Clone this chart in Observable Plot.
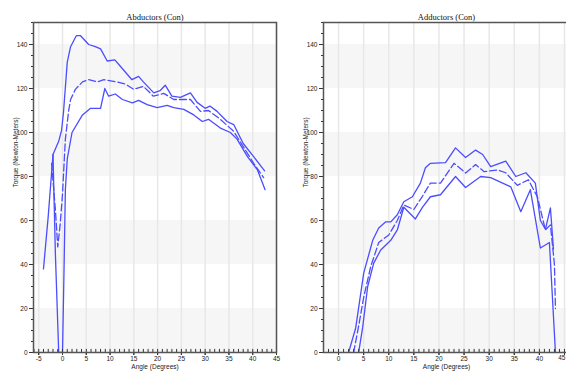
<!DOCTYPE html>
<html>
<head>
<meta charset="utf-8">
<script src="https://cdn.jsdelivr.net/npm/d3@7"></script>
<script src="https://cdn.jsdelivr.net/npm/@observablehq/plot@0.6"></script>
<style>
  html, body { margin: 0; padding: 0; background: #fff; overflow: hidden; }
  #wrap { display: flex; flex-wrap: nowrap; width: 566px; height: 376px; overflow: hidden; }
  #wrap > div { flex: none; }
</style>
</head>
<body>
<div id="wrap"><div id="left"></div><div id="right"></div></div>
<script>
// ---- data: [angle (degrees), torque (N·m)] ----
const abdUpper = [[-4,38],[-3,62],[-2,90],[-0.8,96],[-0.2,101],[0.2,109],[1,132],[1.7,139],[2.9,144],[3.8,144],[5.5,140],[6.9,139],[8,138],[9.4,132.5],[11,133],[12.2,130],[14.6,124],[16,125.5],[17,123],[19.2,118],[20.5,119],[21.6,121.5],[23,116.5],[24.8,116],[26.9,118],[28.3,113.7],[30,111],[31,112],[32.5,109.6],[34.6,105],[36,103.6],[38,95],[40.2,89],[42.5,82.6]];
const abdMean = [[-2.3,86],[-1.5,65],[-1,48],[-0.5,58],[0,72],[0.6,97],[1.3,110],[1.7,115],[2.7,119.6],[4.2,123],[5.5,124],[7.3,123],[8.7,124],[11.5,123],[13.2,122],[15,119.6],[17,121],[19.1,116.5],[21.3,117.8],[23.4,115],[25,115],[26.9,115],[29,109.6],[30.7,110],[33.2,106],[36,100.5],[38,93.6],[40.2,86],[42.3,79.5]];
const abdLower = [[-2,90],[-1.5,45],[-0.8,0],[0,0],[0.3,35],[0.6,74],[1,88],[2,100],[4.2,108],[5.9,111],[8,111],[8.9,120],[9.7,116.5],[11.1,117.5],[12.6,115],[14.7,113.5],[16,114.6],[17.8,112.7],[19.9,111.3],[22,112.3],[23.4,111.3],[25.5,110.5],[27.6,108],[29.4,105],[30.7,106],[33.2,102],[35.3,100],[36.7,97],[38.9,89],[41,83],[42.6,74]];

const addUpper = [[2,0],[3.4,11],[5,36],[6.8,51],[8,56.6],[9.4,59.4],[10.4,59.4],[11.7,62.6],[13,68.5],[14.7,70.8],[16.3,77],[17.3,84],[18.3,86],[21.3,86.3],[23.3,93],[25.3,88.6],[27.3,92],[28.7,90],[30.3,84.5],[33.3,87],[35.3,80],[37.3,81.7],[39.2,77],[40.2,60],[41.2,56],[42.2,65.7],[42.8,47]];
const addMean = [[3,0],[4,12],[5,25],[6.4,39],[8,50],[10,53.4],[11.7,60],[13,67],[15,65],[16.7,71],[18.3,77],[20.3,77],[23,86],[25.3,81.6],[27.3,85.4],[29,82.2],[31.7,83],[33.3,81.7],[35.6,76],[37.8,78.5],[39.6,70.8],[41.2,55.7],[42.2,58],[43,40],[43.2,20]];
const addLower = [[4,0],[4.8,11.4],[5.8,30],[7,40.6],[8.4,46.6],[10.4,51],[11.7,55.7],[13,66],[15.3,60.7],[16.7,66],[18.3,70.8],[20.3,71.7],[23.3,80],[25.3,75],[28.3,80],[30.3,79.5],[34.3,75.3],[36.3,64],[38.2,74],[40.2,47.5],[42,50],[43.2,0]];

const titles = ["Abductors (Con)", "Adductors (Con)"];
const xLabel = "Angle (Degrees)";
const yLabel = "Torque (Newton-Meters)";
const bands = [[0,20],[40,60],[80,100],[120,140]];
const yMajor = [0,20,40,60,80,100,120,140];
const xMajorLeft = [-5,0,5,10,15,20,25,30,35,40,45];
const xMajorRight = [0,5,10,15,20,25,30,35,40,45];

const blue = "#4b4dff";

function panel({title, xDomain, width, marginLeft, marginRight, upper, mean, lower, xMajor, lastEnd}) {
  const xMinor = d3.range(Math.ceil(xDomain[0]), Math.floor(xDomain[1]) + 1);
  const yMinor = d3.range(0, 151, 5);
  const lineOpts = {x: d => d[0], y: d => d[1], stroke: blue, strokeWidth: 1.3, clip: true};
  const labelled = lastEnd ? xMajor.slice(0, -1) : xMajor;
  const marks = [
    Plot.rect(bands, {y1: d => d[0], y2: d => d[1], fill: "#f6f6f6"}),
    Plot.ruleX(xMajor, {stroke: "#e8e8e8", strokeWidth: 1.5}),
    Plot.line(upper, lineOpts),
    Plot.line(mean, {...lineOpts, strokeDasharray: "7,3"}),
    Plot.line(lower, lineOpts),
    Plot.ruleX(xMinor, {y1: 0, y2: 1.4, stroke: "#333", strokeWidth: 1}),
    Plot.axisX({ticks: xMajor, tickSize: 3, text: null, label: null, stroke: "#333"}),
    Plot.axisX({ticks: labelled, tickSize: 3, tickPadding: 1, label: null, tickFormat: d => String(d), stroke: "#333"}),
    Plot.axisY({ticks: yMinor, tickSize: 2, text: null, label: null, stroke: "#333"}),
    Plot.axisY({ticks: yMajor, tickSize: 4, tickPadding: 2, label: null, tickFormat: d => String(d), stroke: "#333"}),
    Plot.frame({stroke: "#555", strokeWidth: 1.5}),
    Plot.text([title], {frameAnchor: "top", dy: -9, fontFamily: "Liberation Serif, Times New Roman, serif", fontSize: 8.5, fill: "#111"}),
    Plot.text([xLabel], {frameAnchor: "bottom", dy: 16, fontSize: 6.5, fill: "#222"}),
    Plot.text([yLabel], {frameAnchor: "left", dx: -18, rotate: -90, fontSize: 6.5, fill: "#222"})
  ];
  if (lastEnd) {
    marks.push(Plot.text([xMajor[xMajor.length - 1]], {x: d => d, frameAnchor: "bottom", dy: 7, textAnchor: "end", dx: 1, fontSize: 6.5, fill: "#222"}));
  }
  return Plot.plot({
    width, height: 376,
    marginLeft, marginRight, marginTop: 22, marginBottom: 24,
    x: {domain: xDomain},
    y: {domain: [0, 150]},
    style: {fontFamily: "Liberation Sans, Arial, sans-serif", fontSize: "6.5px", background: "white", color: "#222", overflow: "visible"},
    marks
  });
}

document.getElementById("left").append(panel({
  title: titles[0], xDomain: [-6.1, 45], width: 283, marginLeft: 33, marginRight: 7,
  upper: abdUpper, mean: abdMean, lower: abdLower,
  xMajor: xMajorLeft, lastEnd: false
}));
document.getElementById("right").append(panel({
  title: titles[1], xDomain: [-3, 46], width: 296, marginLeft: 40, marginRight: 10,
  upper: addUpper, mean: addMean, lower: addLower,
  xMajor: xMajorRight, lastEnd: true
}));
</script>
</body>
</html>
